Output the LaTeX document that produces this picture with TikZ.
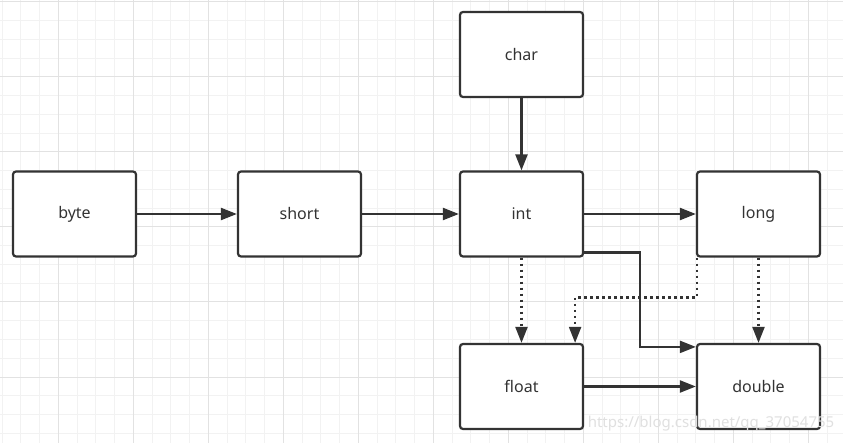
\documentclass[tikz,border=0pt]{standalone}
\usepackage{fontspec}
\setmainfont{Noto Sans}
\usepackage{tikz}
\usetikzlibrary{calc, arrows.meta, positioning}
\definecolor{ink}{HTML}{333333}
\definecolor{gridminor}{HTML}{F2F2F2}
\definecolor{gridmajor}{HTML}{E2E2E2}

\begin{document}
\begin{tikzpicture}[x=1pt, y=-1pt,
  typebox/.style={draw=ink, line width=2.2pt, rounded corners=3pt, fill=white,
    minimum width=123pt, minimum height=85pt, inner sep=0pt, text=ink,
    font=\fontsize{16}{19}\selectfont},
  arr/.style={draw=ink, line width=2.2pt, -{Triangle[length=16pt, width=12pt]}},
  dotarr/.style={arr, dash pattern=on 2.5pt off 3.5pt}]
  \useasboundingbox (0,0) rectangle (843,443);
  \fill[white] (0,0) rectangle (843,443);

\foreach \i in {0,...,44}
  \draw[gridminor, line width=1pt] ({2+18.75*\i},0) -- ({2+18.75*\i},443);
\foreach \j in {0,...,23}
  \draw[gridminor, line width=1pt] (0,{2+18.75*\j}) -- (843,{2+18.75*\j});
\foreach \i in {3,7,...,43}
  \draw[gridmajor, line width=1pt] ({2+18.75*\i},0) -- ({2+18.75*\i},443);
\foreach \j in {0,4,...,20}
  \draw[gridmajor, line width=1pt] (0,{2+18.75*\j}) -- (843,{2+18.75*\j});

\node[typebox] (byte)   at (74.5, 214)  {byte};
\node[typebox] (short)  at (299.5, 214) {short};
\node[typebox] (int)    at (521.5, 214) {int};
\node[typebox] (long)   at (758.5, 214) {long};
\node[typebox] (char)   at (521.5, 54.5) {char};
\node[typebox] (float)  at (521.5, 386.5) {float};
\node[typebox] (double) at (758.5, 386.5) {double};

\draw[arr] (byte) -- (short);
\draw[arr] (short) -- (int);
\draw[arr] (int) -- (long);
\draw[arr] (char) -- (int);
\draw[arr] (float) -- (double);
\draw[arr] ([yshift=5pt]int.south east)
  -| ($(int.south east)!0.5!(double.north west)$)
  |- ([yshift=-4pt]double.north west);

\draw[dotarr] (int) -- (float);
\draw[dotarr] (long) -- (double);
\draw[dotarr] ([xshift=1pt]long.south west) -- ++(0,40)
  -| ([xshift=-9pt]float.north east);

\node[text=black!12, font=\fontsize{15}{18}\selectfont] (mark) at (711, 424)
  {https://blog.csdn.net/qq\_37054755};
\end{tikzpicture}
\end{document}
